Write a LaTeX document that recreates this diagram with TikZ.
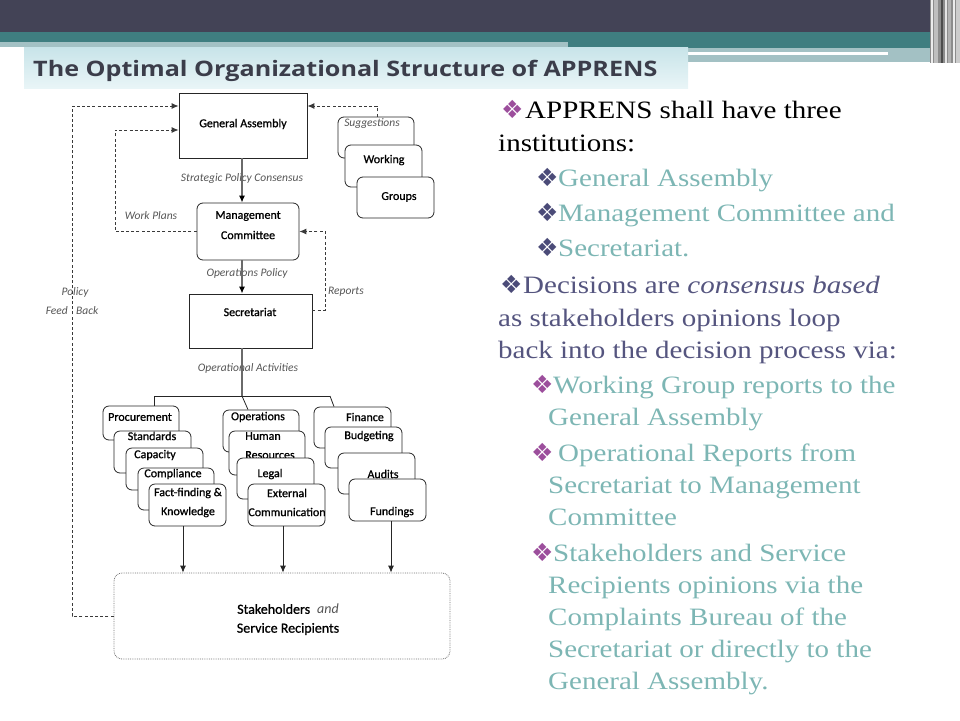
\documentclass[tikz,border=0pt]{standalone}
\usepackage{fontspec}
\usetikzlibrary{arrows.meta}
\setmainfont{Carlito}
\newfontfamily\dfont[FakeBold=0.9]{Carlito}
\newfontfamily\ifont{Carlito}
\newfontfamily\tfont[FakeStretch=1.18]{Open Sans}
\newfontfamily\bfont[FakeStretch=1.16]{Liberation Serif}
\newfontfamily\symfont{DejaVu Sans}
\definecolor{darkband}{HTML}{434356}
\definecolor{tealband}{HTML}{3F7E80}
\definecolor{lightband}{HTML}{A3C1C4}
\definecolor{titlecol}{HTML}{3B3D4A}
\definecolor{titletop}{HTML}{C8E4E9}
\definecolor{titlebot}{HTML}{E9F5F7}
\definecolor{lteal}{HTML}{7DB6B4}
\definecolor{slate}{HTML}{55557F}
\definecolor{bulpurple}{HTML}{9C4E9C}
\definecolor{bulnavy}{HTML}{4B4B78}
\definecolor{linegray}{HTML}{6A6A6A}
\definecolor{dashgray}{HTML}{3A3A3A}
\definecolor{itgray}{HTML}{555555}
\tikzset{
  box/.style={draw=black!85, fill=white, line width=0.8pt, inner sep=0pt},
  rbox/.style={box, rounded corners=6pt},
  lbl/.style={font=\dfont\fontsize{12}{14}\selectfont, text=black, inner sep=0pt},
  ital/.style={font=\ifont\itshape\fontsize{11.5}{13}\selectfont, text=itgray, inner sep=0pt},
  tip/.style={-{Latex[length=7pt,width=6pt]}},
  spine/.style={-{Latex[length=7pt,width=6pt,color=black]}, draw=linegray, line width=1.3pt},
  treeline/.style={draw=black!85, line width=0.8pt},
  fbline/.style={tip, draw=dashgray, line width=0.9pt, dash pattern=on 3pt off 2.2pt},
  body/.style={font=\bfont\fontsize{25}{29}\selectfont, anchor=base west, inner sep=0pt},
  bul/.style={font=\symfont\fontsize{25}{28}\selectfont, anchor=base west, inner sep=0pt}
}
\begin{document}
\begin{tikzpicture}[x=1pt,y=-1pt]
\useasboundingbox (0,0) rectangle (960,720);
% ---------- header ----------
\fill[darkband] (0,0) rectangle (960,32);
\fill[tealband] (0,32) rectangle (960,42);
\fill[lightband] (0,42) rectangle (568,47);
\fill[tealband] (568,42) rectangle (960,48);
\fill[lightband] (688,48) rectangle (935,62);
\fill[white] (688,52) rectangle (888,55);
\fill[black!45] (930,0) rectangle (960,63);
\fill[white!85!gray] (931,0) rectangle (932.5,63);
\fill[black!25] (934,0) rectangle (938,63);
\fill[black!70] (941,0) rectangle (943,63);
\fill[white!80!gray] (945,0) rectangle (946.5,63);
\fill[black!30] (948,0) rectangle (951,63);
\fill[white!85!gray] (953,0) rectangle (954.5,63);
\fill[black!20] (956,0) rectangle (960,63);
\shade[top color=titletop, bottom color=titlebot] (24,47) rectangle (688,88);
\node[anchor=base west, inner sep=0pt, font=\tfont\bfseries\fontsize{21.3}{24}\selectfont, text=titlecol] (title) at (33,76) {The Optimal Organizational Structure of APPRENS};

% ---------- diagram: top part ----------
\coordinate (sp) at (242,0);
\node[box, minimum width=128pt, minimum height=65pt] (GA) at (243,125.5) {};
\node[lbl] (GAt) at (243,124) {General Assembly};
\node[rbox, minimum width=102pt, minimum height=57pt] (MC) at (248,231.5) {};
\node[lbl] (MCt1) at (248,216) {Management};
\node[lbl] (MCt2) at (248,235) {Committee};
\node[box, minimum width=123pt, minimum height=54pt] (Sec) at (250.5,321) {};
\node[lbl] (Sect) at (250,312) {Secretariat};

\node[ital] (strat) at (242,178) {Strategic Policy Consensus};
\node[ital] (opspol) at (247,273) {Operations Policy};
\node[ital] (opact) at (248,368) {Operational Activities};
\node[ital] (wplab) at (151,216) {Work Plans};
\node[ital] (replab) at (346,292) {Reports};
\node[ital] (pol) at (75,292) {Policy};
\node[ital, anchor=east] (feed) at (68,311) {Feed};
\node[ital, anchor=west] (back) at (76,311) {Back};

% working groups stack
\node[rbox, minimum width=76pt, minimum height=41pt] (WG1) at (376,137.5) {};
\node[ital] (WG1t) at (372,124) {Suggestions};
\node[rbox, minimum width=77pt, minimum height=42pt] (WG2) at (383.5,166) {};
\node[lbl] (WG2t) at (384,160) {Working};
\node[rbox, minimum width=77pt, minimum height=41pt] (WG3) at (395.5,197.5) {};
\node[lbl] (WG3t) at (399,197) {Groups};

% ---------- groups ----------
\node[rbox, minimum width=76pt, minimum height=34pt] (Proc) at (141,423) {};
\node[lbl] (Proct) at (140,417) {Procurement};
\node[rbox, minimum width=77pt, minimum height=42pt] (Std) at (152.5,452) {};
\node[lbl] (Stdt) at (152,436) {Standards};
\node[rbox, minimum width=77pt, minimum height=42pt] (Cap) at (164.5,469) {};
\node[lbl] (Capt) at (155,455) {Capacity};
\node[rbox, minimum width=76pt, minimum height=42pt] (Comp) at (176,489) {};
\node[lbl] (Compt) at (173,474) {Compliance};
\node[rbox, minimum width=77pt, minimum height=42pt] (FF) at (187.5,505) {};
\node[lbl] (FFt1) at (188,493) {Fact-finding \&};
\node[lbl] (FFt2) at (188,512) {Knowledge};

\node[rbox, minimum width=76pt, minimum height=42pt] (Ops) at (261,431) {};
\node[lbl] (Opst) at (258,417) {Operations};
\node[rbox, minimum width=76pt, minimum height=44pt] (HR) at (267,453) {};
\node[lbl] (HRt1) at (263,436) {Human};
\node[lbl] (HRt2) at (270,455) {Resources};
\node[rbox, minimum width=77pt, minimum height=41pt] (Leg) at (275.5,478.5) {};
\node[lbl] (Legt) at (270,474) {Legal};
\node[rbox, minimum width=77pt, minimum height=42pt] (Ext) at (286.5,505) {};
\node[lbl] (Extt1) at (287,493) {External};
\node[lbl] (Extt2) at (287,512) {Communication};

\node[rbox, minimum width=77pt, minimum height=41pt] (Fin) at (352.5,427.5) {};
\node[lbl] (Fint) at (365,417) {Finance};
\node[rbox, minimum width=77pt, minimum height=41pt] (Bud) at (363.5,447.5) {};
\node[lbl] (Budt) at (369,436) {Budgeting};
\node[rbox, minimum width=77pt, minimum height=41pt] (Aud) at (376.5,473.5) {};
\node[lbl] (Audt) at (383,474) {Audits};
\node[rbox, minimum width=77pt, minimum height=42pt] (Fund) at (387.5,500) {};
\node[lbl] (Fundt) at (392,512) {Fundings};

% stakeholders
\node[draw=black!55, densely dotted, line width=0.8pt, rounded corners=8pt, fill=white, minimum width=336pt, minimum height=86pt, inner sep=0pt] (SR) at (282,616) {};
\node[inner sep=0pt, font=\dfont\fontsize{14}{16}\selectfont] (SRt1) at (288,609) {Stakeholders\enspace{\ifont\itshape\color{itgray}and}};
\node[inner sep=0pt, font=\dfont\fontsize{14}{16}\selectfont] (SRt2) at (288,629) {Service Recipients};

% ---------- connectors ----------
\draw[spine] (GA.south -| sp) -- (MC.north -| sp);
\draw[spine] (MC.south -| sp) -- (Sec.north -| sp);
\coordinate (tb) at (242,396);
\coordinate (t1) at (154,396);
\coordinate (t3) at (330,396);
\draw[draw=linegray, line width=1.3pt] (Sec.south -| sp) -- (tb);
\draw[treeline] (t1) -- (t3);
\draw[treeline] (t1) -- (t1 |- Proc.north);
\draw[treeline] (tb) -- ([xshift=6pt]tb |- Ops.north);
\draw[treeline] (t3) -- ([xshift=4pt]t3 |- Fin.north);
\draw[treeline, tip] ([xshift=-4.5pt]FF.south) -- ([xshift=-4.5pt]FF.south |- SR.north);
\draw[treeline, tip] ([xshift=-3.5pt]Ext.south) -- ([xshift=-3.5pt]Ext.south |- SR.north);
\draw[treeline, tip] ([xshift=3.5pt]Fund.south) -- ([xshift=3.5pt]Fund.south |- SR.north);

% dashed feedback loops
\coordinate (pf) at (72,106);
\draw[fbline] (SR.west) -| (pf) -- (pf -| GA.west);
\coordinate (wp) at (115,130);
\draw[fbline] (MC.west) -| (wp) -- (wp -| GA.west);
\coordinate (rp) at (325,310);
\draw[fbline] (rp -| Sec.east) -- (rp) |- (MC.east);
\coordinate (sg) at (377,106);
\draw[fbline] (WG1.north -| sg) -- (sg) -- (sg -| GA.east);

% ---------- right text ----------
\node[bul, text=bulpurple] (b1) at (501,118) {❖};
\node[body, text=black] (r1) at (525,118) {APPRENS shall have three};
\node[body, text=black] (r2) at (498,151) {institutions:};
\node[bul, text=bulnavy] (b3) at (536,186) {❖};
\node[body, text=lteal] (r3) at (558,186) {General Assembly};
\node[bul, text=bulnavy] (b4) at (536,221) {❖};
\node[body, text=lteal] (r4) at (558,221) {Management Committee and};
\node[bul, text=bulnavy] (b5) at (536,256) {❖};
\node[body, text=lteal] (r5) at (558,256) {Secretariat.};
\node[bul, text=bulnavy] (b6) at (500,293) {❖};
\node[body, text=slate] (r6) at (523,293) {Decisions are \textit{consensus based}};
\node[body, text=slate] (r7) at (498,326) {as stakeholders opinions loop};
\node[body, text=slate] (r8) at (498,358) {back into the decision process via:};
\node[bul, text=bulpurple] (b9) at (531,393) {❖};
\node[body, text=lteal] (r9) at (553,393) {Working Group reports to the};
\node[body, text=lteal] (r10) at (548,425) {General Assembly};
\node[bul, text=bulpurple] (b11) at (531,461) {❖};
\node[body, text=lteal] (r11) at (558,461) {Operational Reports from};
\node[body, text=lteal] (r12) at (548,493) {Secretariat to Management};
\node[body, text=lteal] (r13) at (548,525) {Committee};
\node[bul, text=bulpurple] (b14) at (531,561) {❖};
\node[body, text=lteal] (r14) at (553,561) {Stakeholders and Service};
\node[body, text=lteal] (r15) at (548,593) {Recipients opinions via the};
\node[body, text=lteal] (r16) at (548,625) {Complaints Bureau of the};
\node[body, text=lteal] (r17) at (548,657) {Secretariat or directly to the};
\node[body, text=lteal] (r18) at (548,689) {General Assembly.};
\end{tikzpicture}
\end{document}
